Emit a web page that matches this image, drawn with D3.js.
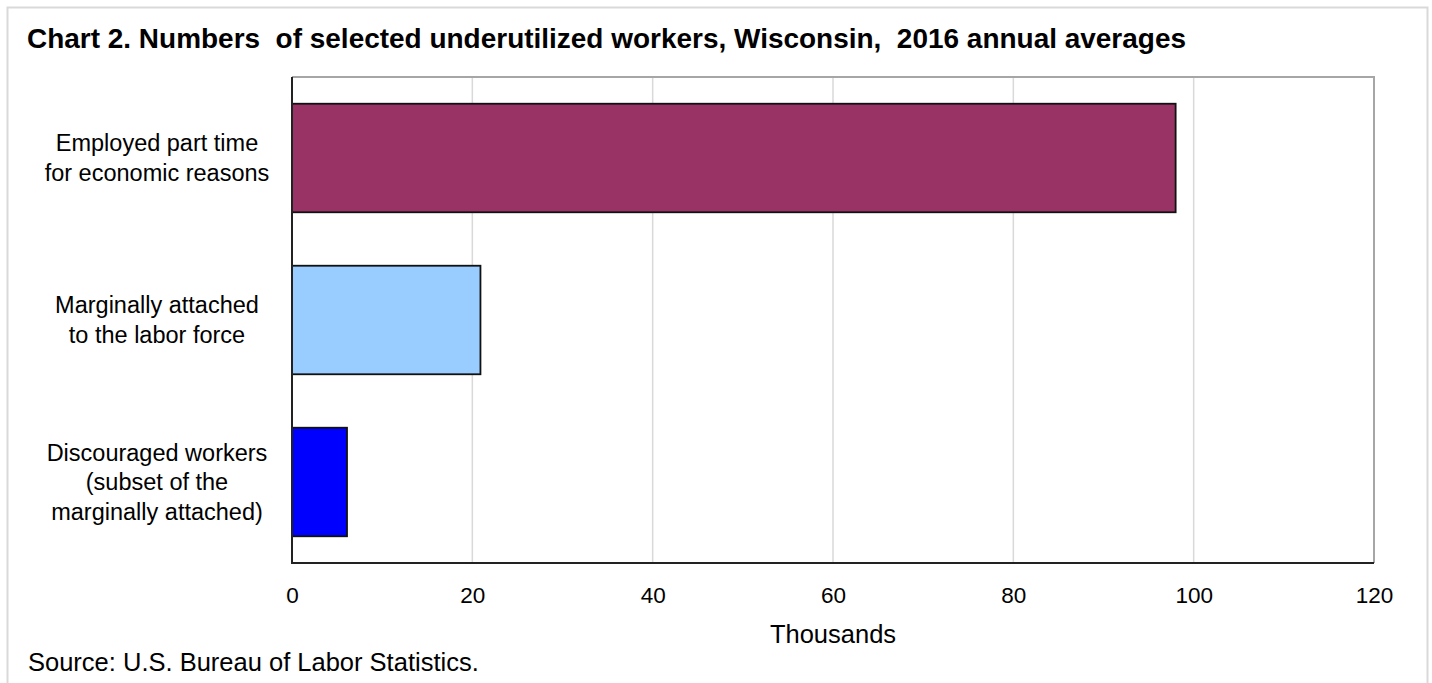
<!DOCTYPE html>
<html><head><meta charset="utf-8">
<script src="https://cdn.jsdelivr.net/npm/d3@7"></script>
<style>body{margin:0;background:#fff}svg{display:block}</style>
</head><body>
<svg id="chart" width="1432" height="683"></svg>
<script>
const titleText = "Chart 2. Numbers  of selected underutilized workers, Wisconsin,  2016 annual averages";
const categories = [
  ["Employed part time", "for economic reasons"],
  ["Marginally attached", "to the labor force"],
  ["Discouraged workers", "(subset of the", "marginally attached)"]
];
const values = [98.0, 20.9, 6.1];
const barColors = ["#993366", "#99CCFF", "#0000FF"];
const xTicks = [0, 20, 40, 60, 80, 100, 120];
const xLabel = "Thousands";
const sourceText = "Source: U.S. Bureau of Labor Statistics.";

const svg = d3.select("#chart");
const L = 292, R = 1374, T = 77, B = 563;
const font = "'Liberation Sans', Arial, sans-serif";

svg.append("rect").attr("x", 7.5).attr("y", 7.5).attr("width", 1420).attr("height", 700)
  .attr("fill", "#fff").attr("stroke", "#d9d9d9").attr("stroke-width", 2);

svg.append("text").attr("x", 27).attr("y", 48).text(titleText)
  .style("white-space", "pre")
  .attr("font-family", "'Liberation Sans Narrow', 'Liberation Sans', Arial, sans-serif")
  .attr("font-weight", "bold").attr("font-size", 27).attr("fill", "#000")
  .attr("textLength", 1159).attr("lengthAdjust", "spacingAndGlyphs");

const x = d3.scaleLinear().domain([0, 120]).range([L, R]);
const y = d3.scaleBand().domain(d3.range(values.length)).range([T, B]).paddingInner(0.33).paddingOuter(0.165);

// gridlines
svg.append("g").selectAll("line").data(xTicks.slice(1, -1)).join("line")
  .attr("x1", d => x(d)).attr("x2", d => x(d)).attr("y1", T).attr("y2", B)
  .attr("stroke", "#d9d9d9").attr("stroke-width", 1.5);

// plot frame: top & right gray
svg.append("path").attr("d", `M${L},${T}H${R}V${B}`).attr("fill", "none")
  .attr("stroke", "#a6a6a6").attr("stroke-width", 2);

// bars
svg.append("g").selectAll("rect").data(values).join("rect")
  .attr("x", x(0)).attr("y", (d, i) => y(i))
  .attr("width", d => x(d) - x(0)).attr("height", y.bandwidth())
  .attr("fill", (d, i) => barColors[i]).attr("stroke", "#111").attr("stroke-width", 1.8);

// axes left/bottom
svg.append("path").attr("d", `M${L},${T}V${B}H${R}`).attr("fill", "none")
  .attr("stroke", "#222").attr("stroke-width", 2);

// x axis labels
const xAxis = d3.axisBottom(x).tickValues(xTicks).tickSize(0).tickPadding(0);
const gx = svg.append("g").attr("transform", `translate(0,${B})`).call(xAxis);
gx.select(".domain").remove();
gx.selectAll("text").attr("font-family", font).attr("font-size", 22.5).attr("fill", "#000")
  .attr("dy", null).attr("y", 40);

svg.append("text").attr("x", x(60)).attr("y", 643).attr("text-anchor", "middle")
  .attr("font-family", font).attr("font-size", 25.5).attr("fill", "#000").text(xLabel);

// category labels
const lh = 29.5;
const gl = svg.append("g");
categories.forEach((lines, i) => {
  const cy = y(i) + y.bandwidth() / 2;
  const t = gl.append("text").attr("text-anchor", "middle")
    .attr("font-family", font).attr("font-size", 23.5).attr("fill", "#000");
  const y0 = cy - (lines.length - 1) * lh / 2 + 8;
  lines.forEach((s, j) => t.append("tspan").attr("x", 157).attr("y", y0 + j * lh).text(s));
});

svg.append("text").attr("x", 28).attr("y", 671).attr("font-family", font)
  .attr("font-size", 25.5).attr("fill", "#000").text(sourceText);
</script>
</body></html>
